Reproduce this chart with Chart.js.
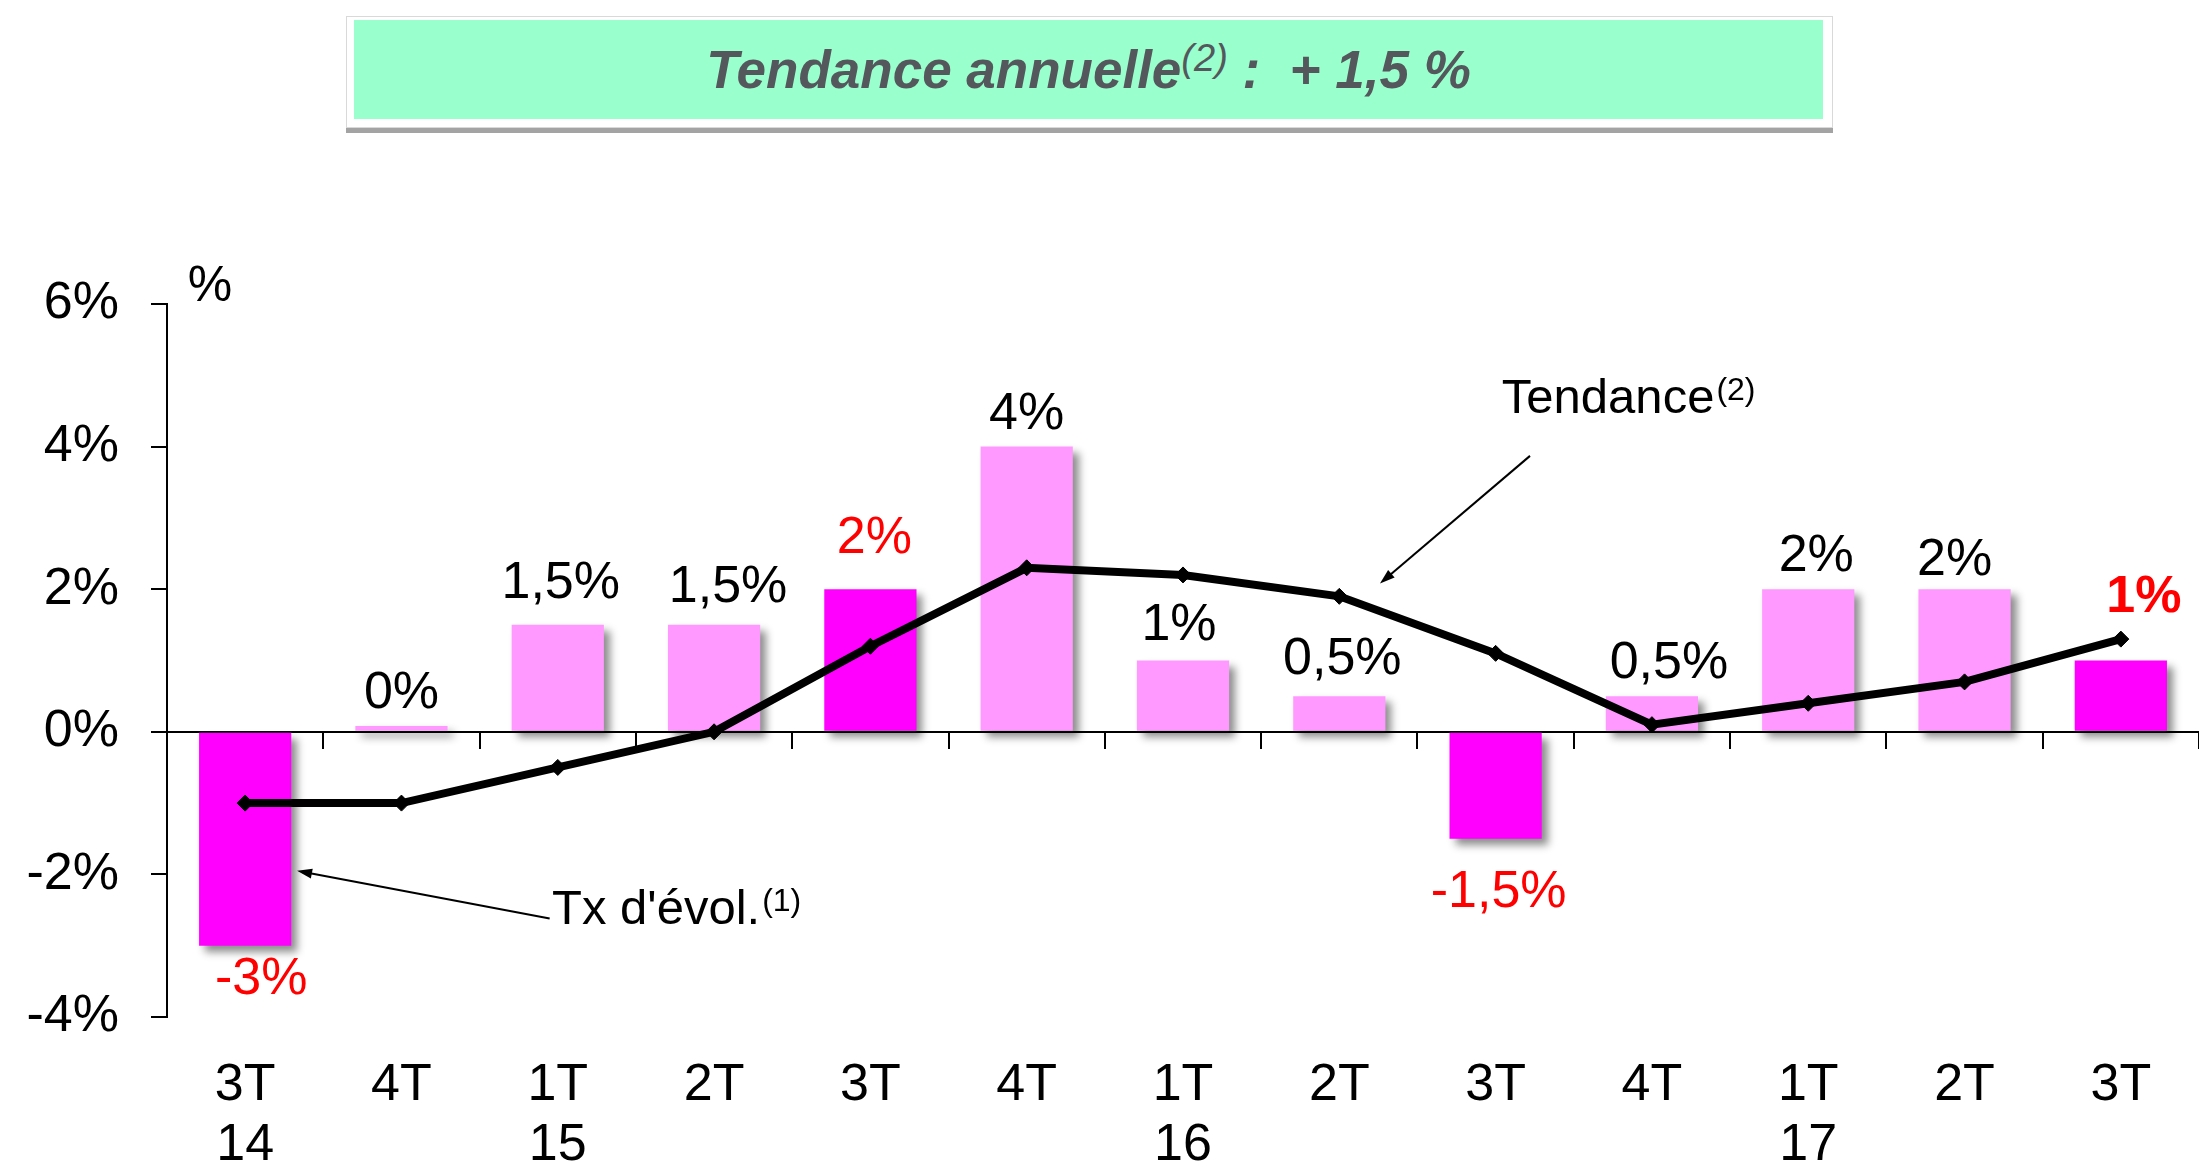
<!DOCTYPE html>
<html>
<head>
<meta charset="utf-8">
<script src="https://cdn.jsdelivr.net/npm/chart.js@4.4.0/dist/chart.umd.min.js"></script>
<style>
  html, body { margin: 0; padding: 0; background: #fff; overflow: hidden; }
  #wrap { position: relative; width: 2199px; height: 1161px; }
  #chart { position: absolute; left: 0; top: 0; }
  #titleBox {
    position: absolute; left: 346px; top: 16px; width: 1487px; height: 112px;
    box-sizing: border-box; background: #fff; border: 1px solid #d9d9d9;
    box-shadow: 0 5px 0 #a3a3a3; z-index: 2;
  }
  #titleBox .fill {
    position: absolute; left: 7px; top: 3px; right: 9px; bottom: 8px;
    background: #99ffcc; text-align: center; line-height: 99px;
    font: italic bold 53px/99px "Liberation Sans", Arial, sans-serif; color: #54575c;
    white-space: pre;
  }
  #titleBox .sup { font-size: 38px; font-weight: normal; position: relative; top: -17px; }
</style>
</head>
<body>
<div id="wrap">
  <div id="titleBox"><div class="fill">Tendance annuelle<span class="sup">(2)</span> :  + 1,5 %</div></div>
  <canvas id="chart" width="2199" height="1161"></canvas>
</div>
<script>
const FONT = '"Liberation Sans", Arial, sans-serif';

// data
const quarters = ['3T', '4T', '1T', '2T', '3T', '4T', '1T', '2T', '3T', '4T', '1T', '2T', '3T'];
const years    = ['14', '',   '15', '',   '',   '',   '16', '',   '',   '',   '17', '',   ''];
const txEvol   = [-3, 0.08, 1.5, 1.5, 2, 4, 1, 0.5, -1.5, 0.5, 2, 2, 1];
const tendance = [-1, -1, -0.5, 0, 1.2, 2.3, 2.2, 1.9, 1.1, 0.1, 0.4, 0.7, 1.3];
const barLabels = ['-3%', '0%', '1,5%', '1,5%', '2%', '4%', '1%', '0,5%', '-1,5%', '0,5%', '2%', '2%', '1%'];
const yTicks = [-4, -2, 0, 2, 4, 6];

// label placement (px from bar end)
const labelDx  = [16, 0, 3, 14, 4, 0, -4, 3, 3, 17, 8, -10, 23];
const labelGap = [34, 32, 41, 37, 51, 32, 35, 36, 54, 32, 33, 29, 63];

// callouts, anchored in data units (x = category index, y = %)
const callouts = [
  { text: 'Tendance', sup: '(2)', at: [8.04, 4.47], tail: [8.22, 3.87], tip: [7.26, 2.08] },
  { text: "Tx d'évol.", sup: '(1)', at: [1.963, -2.70], tail: [1.948, -2.62], tip: [0.332, -1.95] }
];

const labels = quarters.map((q, i) => [q, years[i]]);
const isQ3 = quarters.map(q => q === '3T');
const barColors = isQ3.map(h => h ? '#ff00ff' : '#ff99ff');

const barShadow = {
  id: 'barShadow',
  beforeDatasetDraw(chart, args) {
    if (args.meta.type !== 'bar') return;
    const ctx = chart.ctx;
    ctx.save();
    ctx.shadowColor = 'rgba(0,0,0,0.45)';
    ctx.shadowBlur = 8;
    ctx.shadowOffsetX = 6;
    ctx.shadowOffsetY = 6;
  },
  afterDatasetDraw(chart, args) {
    if (args.meta.type !== 'bar') return;
    chart.ctx.restore();
  }
};

const barValueLabels = {
  id: 'barValueLabels',
  afterDatasetsDraw(chart) {
    const ctx = chart.ctx;
    const meta = chart.getDatasetMeta(0);
    const last = txEvol.length - 1;
    ctx.save();
    ctx.textAlign = 'center';
    ctx.textBaseline = 'middle';
    meta.data.forEach((bar, i) => {
      const y = txEvol[i] >= 0 ? bar.y - labelGap[i] : bar.y + labelGap[i];
      ctx.fillStyle = isQ3[i] ? '#ff0000' : '#000';
      ctx.font = (i === last ? 'bold ' : '') + '52px ' + FONT;
      ctx.fillText(barLabels[i], bar.x + labelDx[i], y);
    });
    ctx.restore();
  }
};

function arrow(ctx, x1, y1, x2, y2) {
  const a = Math.atan2(y2 - y1, x2 - x1);
  const len = 15, half = 5;
  ctx.beginPath();
  ctx.moveTo(x1, y1);
  ctx.lineTo(x2 - Math.cos(a) * len * 0.8, y2 - Math.sin(a) * len * 0.8);
  ctx.stroke();
  ctx.beginPath();
  ctx.moveTo(x2, y2);
  ctx.lineTo(x2 - Math.cos(a) * len - Math.sin(a) * half, y2 - Math.sin(a) * len + Math.cos(a) * half);
  ctx.lineTo(x2 - Math.cos(a) * len + Math.sin(a) * half, y2 - Math.sin(a) * len - Math.cos(a) * half);
  ctx.closePath();
  ctx.fill();
}

const calloutPlugin = {
  id: 'callouts',
  afterDraw(chart) {
    const { ctx, chartArea } = chart;
    const xs = chart.scales.x, ys = chart.scales.y;
    ctx.save();
    ctx.strokeStyle = '#000';
    ctx.fillStyle = '#000';
    ctx.lineWidth = 2;
    callouts.forEach(c => {
      arrow(ctx, xs.getPixelForValue(c.tail[0]), ys.getPixelForValue(c.tail[1]),
                 xs.getPixelForValue(c.tip[0]), ys.getPixelForValue(c.tip[1]));
      const tx = xs.getPixelForValue(c.at[0]);
      const ty = ys.getPixelForValue(c.at[1]);
      ctx.textAlign = 'left';
      ctx.textBaseline = 'alphabetic';
      ctx.font = '49px ' + FONT;
      ctx.fillText(c.text, tx, ty);
      const w = ctx.measureText(c.text).width;
      ctx.font = '32px ' + FONT;
      ctx.fillText(c.sup, tx + w + 2, ty - 13);
    });
    // unit label above the y axis
    ctx.font = '50px ' + FONT;
    ctx.textAlign = 'center';
    ctx.fillText('%', chartArea.left + 43, chartArea.top - 3);
    ctx.restore();
  }
};

function noSidePadding(s) { s.paddingLeft = 0; s.paddingRight = 0; }

Chart.defaults.font.family = FONT;

new Chart(document.getElementById('chart'), {
  data: {
    labels: labels,
    datasets: [
      {
        type: 'bar',
        label: "Tx d'évol.",
        data: txEvol,
        backgroundColor: barColors,
        borderWidth: 0,
        barPercentage: 0.59,
        categoryPercentage: 1,
        order: 1
      },
      {
        type: 'line',
        label: 'Tendance',
        data: tendance,
        borderColor: '#000',
        borderWidth: 8,
        tension: 0,
        pointStyle: 'rectRot',
        pointRadius: 8,
        pointBorderWidth: 1,
        pointBackgroundColor: '#000',
        pointBorderColor: '#000',
        clip: false,
        order: 0
      }
    ]
  },
  options: {
    responsive: false,
    animation: false,
    events: [],
    layout: { autoPadding: false, padding: { top: 304, left: 0, right: 0, bottom: 0 } },
    plugins: { legend: { display: false }, tooltip: { enabled: false } },
    scales: {
      x: {
        type: 'category',
        position: 'bottom',
        offset: true,
        grid: { display: false },
        border: { display: false },
        ticks: {
          color: '#000', autoSkip: false, maxRotation: 0, padding: 31,
          font: { size: 52, lineHeight: 1.15 }
        },
        afterFit(s) { s.height = 144; noSidePadding(s); }
      },
      x0: {
        type: 'category',
        position: { y: 0 },
        offset: true,
        z: 1,
        grid: { offset: true, drawOnChartArea: false, drawTicks: true, tickLength: 16, color: '#000', lineWidth: 2 },
        border: { display: true, color: '#000', width: 2 },
        ticks: { display: false },
        afterFit: noSidePadding
      },
      y: {
        position: 'left',
        min: yTicks[0],
        max: yTicks[yTicks.length - 1],
        ticks: {
          stepSize: yTicks[1] - yTicks[0],
          color: '#000', padding: 32,
          font: { size: 52 },
          callback: v => v + '%'
        },
        grid: { drawOnChartArea: false, drawTicks: true, tickLength: 16, color: '#000', lineWidth: 2 },
        border: { display: true, color: '#000', width: 2 },
        afterFit(s) { s.width = 167; }
      }
    }
  },
  plugins: [barShadow, barValueLabels, calloutPlugin]
});
</script>
</body>
</html>
